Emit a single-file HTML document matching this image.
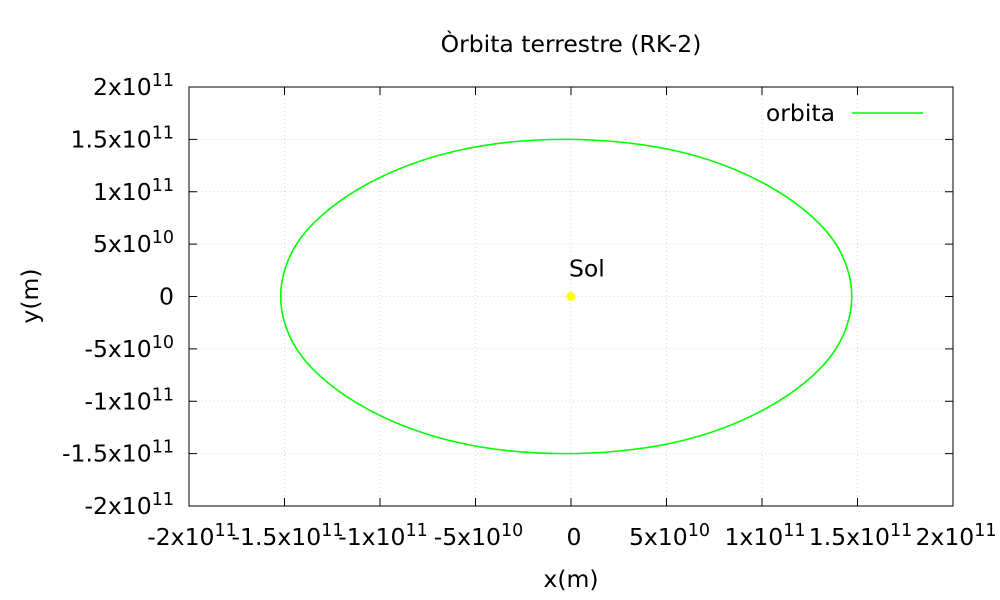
<!DOCTYPE html>
<html><head><meta charset="utf-8"><style>
body{margin:0;background:#fff}
svg{display:block;font-family:"DejaVu Sans","Liberation Sans",sans-serif}
</style></head><body>
<svg id="chart" width="1000" height="600" viewBox="0 0 1000 600" xmlns="http://www.w3.org/2000/svg">
<rect width="1000" height="600" fill="#fff"/>
<g id="grid"></g>
<g id="ticks"></g>
<path id="orbit" fill="none" stroke="#00ff00" stroke-width="1.6"/>
<circle id="sun" r="4.5" fill="#ffff00"/>
<text id="sunlabel" font-size="23.5" fill="#000">Sol</text>
<rect x="189" y="87" width="764" height="419" fill="none" stroke="#000" stroke-width="1"/>
<text x="571" y="52" font-size="23.5" text-anchor="middle">Òrbita terrestre (RK-2)</text>
<text x="571" y="587" font-size="23.5" text-anchor="middle">x(m)</text>
<text transform="translate(38,296) rotate(-90)" font-size="23.5" text-anchor="middle">y(m)</text>
<g>
<text x="835" y="121" font-size="23.5" text-anchor="end">orbita</text>
<line x1="852" y1="113" x2="923" y2="113" stroke="#00ff00" stroke-width="1.6"/>
</g>
</svg>
<script>
const xTicks=[-2e11,-1.5e11,-1e11,-5e10,0,5e10,1e11,1.5e11,2e11];
const yTicks=[-2e11,-1.5e11,-1e11,-5e10,0,5e10,1e11,1.5e11,2e11];
const xTickMant=["-2","-1.5","-1","-5","0","5","1","1.5","2"];
const xTickExp=["11","11","11","10","","10","11","11","11"];
const yTickMant=["-2","-1.5","-1","-5","0","5","1","1.5","2"];
const yTickExp=["11","11","11","10","","10","11","11","11"];
const orbitX=[1.47,1.36,1.03,0.55,-0.03,-0.60,-1.08,-1.41,-1.52,-1.41,-1.08,-0.60,-0.03,0.55,1.03,1.36];
const orbitY=[0,0.57,1.06,1.39,1.5,1.39,1.06,0.57,0,-0.57,-1.06,-1.39,-1.5,-1.39,-1.06,-0.57];
const sunPos=[0,0];
const NS="http://www.w3.org/2000/svg";
const L=189,R=953,T=87,B=506;
const sx=v=>L+(v+2e11)/4e11*(R-L);
const sy=v=>B-(v+2e11)/4e11*(B-T);
function mk(tag,attrs,parent){const e=document.createElementNS(NS,tag);for(const k in attrs)e.setAttribute(k,attrs[k]);parent.appendChild(e);return e;}
const grid=document.getElementById('grid'),ticks=document.getElementById('ticks');
function label(x,y,m,ex,anchor){
  const t=mk('text',{x:x,y:y,'font-size':23.5,'text-anchor':anchor},ticks);
  
  
  t.appendChild(document.createTextNode(ex?m+'x10':m));
  if(ex){const s=mk('tspan',{'font-size':17.5,dy:-9},t);s.textContent=ex;}
}
xTicks.forEach((v,i)=>{
  const x=sx(v);
  if(i>0&&i<xTicks.length-1){const g=mk('line',{x1:x,x2:x,y1:T,y2:B,stroke:'#c8c8c8','stroke-width':0.7,'stroke-dasharray':'1,3'},grid);
  
  }
  const a=mk('line',{x1:x,x2:x,y1:B,y2:B-8,stroke:'#000'},ticks);
  const b=mk('line',{x1:x,x2:x,y1:T,y2:T+8,stroke:'#000'},ticks);
  label(x+3,545,xTickMant[i],xTickExp[i],'middle');
});
yTicks.forEach((v,i)=>{
  const y=sy(v);
  if(i>0&&i<yTicks.length-1){const g=mk('line',{x1:L,x2:R,y1:y,y2:y,stroke:'#c8c8c8','stroke-width':0.7,'stroke-dasharray':'1,3'},grid);
  
  }
  const a=mk('line',{x1:L,x2:L+8,y1:y,y2:y,stroke:'#000'},ticks);
  const b=mk('line',{x1:R,x2:R-8,y1:y,y2:y,stroke:'#000'},ticks);
  label(174,y+8,yTickMant[i],yTickExp[i],'end');
});
const P=orbitX.map((v,i)=>[sx(v*1e11),sy(orbitY[i]*1e11)]);
const n=P.length;let d='M'+P[0][0]+','+P[0][1];
for(let i=0;i<n;i++){
  const p0=P[(i-1+n)%n],p1=P[i],p2=P[(i+1)%n],p3=P[(i+2)%n];
  const c1=[p1[0]+(p2[0]-p0[0])/6,p1[1]+(p2[1]-p0[1])/6];
  const c2=[p2[0]-(p3[0]-p1[0])/6,p2[1]-(p3[1]-p1[1])/6];
  d+=` C${c1[0]},${c1[1]} ${c2[0]},${c2[1]} ${p2[0]},${p2[1]}`;
}
document.getElementById('orbit').setAttribute('d',d+'Z');
const sun=document.getElementById('sun');
sun.setAttribute('cx',sx(sunPos[0]));sun.setAttribute('cy',sy(sunPos[1]));
const sl=document.getElementById('sunlabel');
sl.setAttribute('x',sx(sunPos[0])-2);sl.setAttribute('y',sy(sunPos[1])-20);
</script>
</body></html>
